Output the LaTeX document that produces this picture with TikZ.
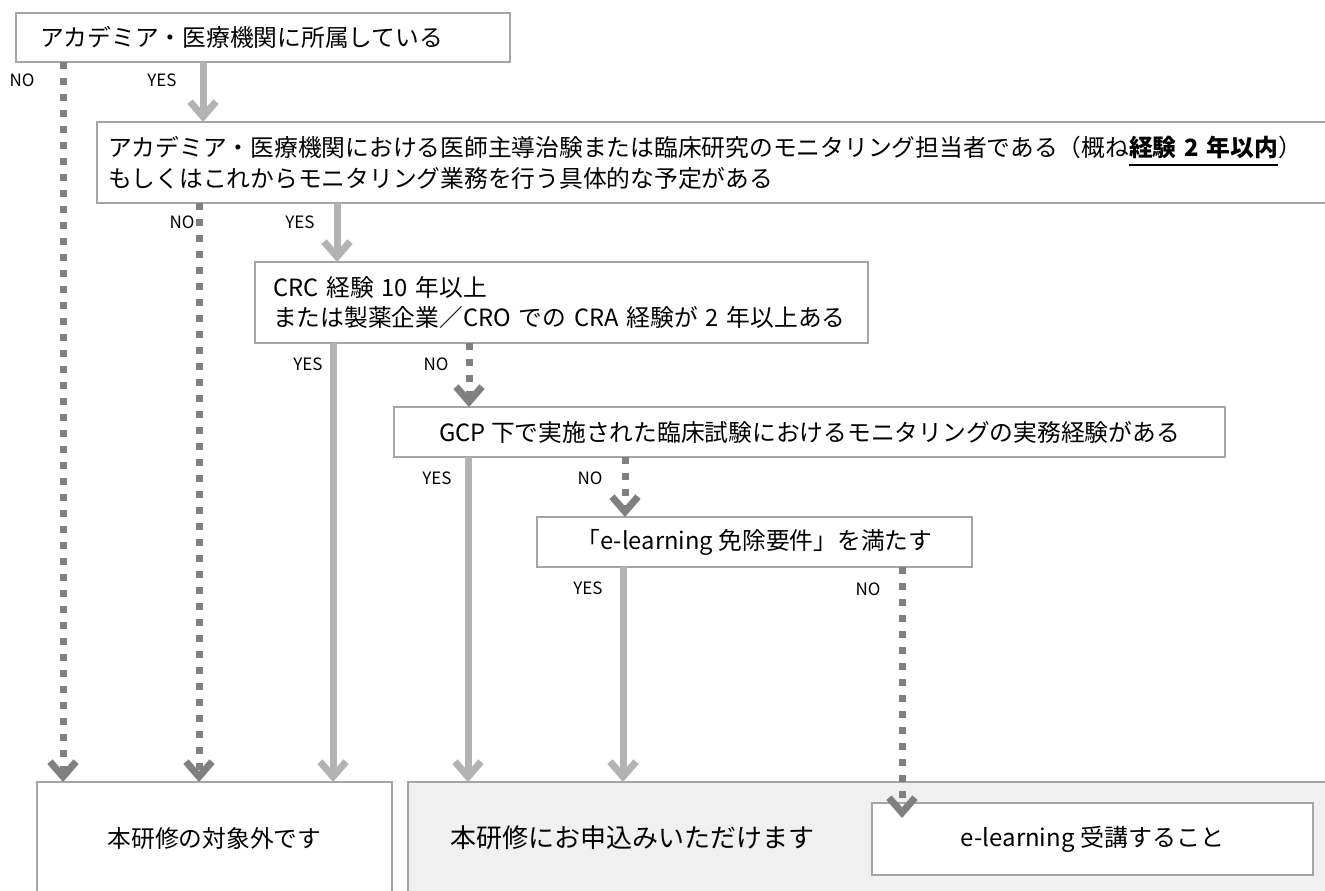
\documentclass[tikz,border=0pt]{standalone}
\usepackage{fontspec}
\setmainfont{Noto Sans CJK JP}
\usetikzlibrary{arrows.meta}
\definecolor{boxgray}{HTML}{A5A5A5}
\definecolor{yesgray}{HTML}{B3B3B3}
\definecolor{nogray}{HTML}{808080}
\definecolor{fillgray}{HTML}{F0F0F0}
\newcommand\mainfs{\fontsize{23.75pt}{29.5pt}\selectfont}
\newcommand\lblfs{\fontsize{17pt}{19pt}\selectfont}
\newcommand\ulbold[1]{\setbox0\hbox{\bfseries #1}\rlap{\rule[-10pt]{\wd0}{2pt}}\box0}
\tikzset{
  box/.style={draw=boxgray, line width=2pt, fill=white, outer sep=0pt, inner ysep=0pt, font=\mainfs, align=left, anchor=north west},
  chevron/.style={-{Straight Barb[length=15pt,width=26pt,line width=7pt]}},
  yesarrow/.style={draw=yesgray, line width=7pt, chevron},
  noarrow/.style={draw=nogray, line width=7pt, dash pattern=on 7pt off 9pt, chevron},
  lbl/.style={font=\lblfs, inner sep=0pt}
}
\begin{document}
\begin{tikzpicture}[x=1pt,y=-1pt]
\useasboundingbox (0,0) rectangle (1325,891);
% boxes
\node[box, text width=446pt, inner xsep=24pt, minimum height=49pt] (b1) at (16,13) {アカデミア・医療機関に所属している};
\node[box, text width=1221pt, inner xsep=11pt, minimum height=81pt] (b2) at (97,122) {アカデミア・医療機関における医師主導治験または臨床研究のモニタリング担当者である（概ね\ulbold{経験 2 年以内}）\\もしくはこれからモニタリング業務を行う具体的な予定がある};
\node[box, text width=577pt, inner xsep=18pt, minimum height=81pt] (b3) at (255,262) {CRC 経験 10 年以上\\または製薬企業／CRO での CRA 経験が\ 2\ 年以上ある};
\node[box, minimum width=831pt, minimum height=50pt] (b4) at (394,407) {GCP 下で実施された臨床試験におけるモニタリングの実務経験がある};
\node[box, minimum width=435pt, minimum height=50pt] (b5) at (537,517) {「e-learning 免除要件」を満たす};
\node[box, minimum width=355pt, minimum height=112pt] (bl) at (37,782) {本研修の対象外です};
\node[box, fill=fillgray, text width=848pt, inner xsep=42pt, minimum height=112pt, font=\fontsize{26pt}{30pt}\selectfont] (bg) at (408,782) {本研修にお申込みいただけます};
\node[box, minimum width=441pt, minimum height=72pt, font=\fontsize{24pt}{28pt}\selectfont] (be) at (872,803) {e-learning 受講すること};
% column coordinates
\coordinate (cA) at (63,0);
\coordinate (cB) at (199,0);
\coordinate (cC) at (203,0);
\coordinate (cD) at (337,0);
\coordinate (cE) at (333,0);
\coordinate (cF) at (469,0);
\coordinate (cG) at (468,0);
\coordinate (cH) at (625,0);
\coordinate (cI) at (623,0);
\coordinate (cJ) at (902,0);
% connectors
\draw[noarrow] (b1.south -| cA) -- (bl.north -| cA);
\draw[yesarrow] (b1.south -| cC) -- (b2.north -| cC);
\draw[noarrow] (b2.south -| cB) -- (bl.north -| cB);
\draw[yesarrow] (b2.south -| cD) -- (b3.north -| cD);
\draw[yesarrow] (b3.south -| cE) -- (bl.north -| cE);
\draw[noarrow] (b3.south -| cF) -- (b4.north -| cF);
\draw[yesarrow] (b4.south -| cG) -- (bg.north -| cG);
\draw[noarrow] (b4.south -| cH) -- (b5.north -| cH);
\draw[yesarrow] (b5.south -| cI) -- (bg.north -| cI);
\draw[noarrow] (b5.south -| cJ) -- ([yshift=-15pt]be.north -| cJ);
% labels
\node[lbl] (n1) at (22,80) {NO};
\node[lbl] (y1) at (162,80) {YES};
\node[lbl] (n2) at (182,222) {NO};
\node[lbl] (y2) at (300,222) {YES};
\node[lbl] (y3) at (308,364) {YES};
\node[lbl] (n3) at (436,364) {NO};
\node[lbl] (y4) at (437,478) {YES};
\node[lbl] (n4) at (590,478) {NO};
\node[lbl] (y5) at (588,588) {YES};
\node[lbl] (n5) at (868,589) {NO};
\end{tikzpicture}
\end{document}
